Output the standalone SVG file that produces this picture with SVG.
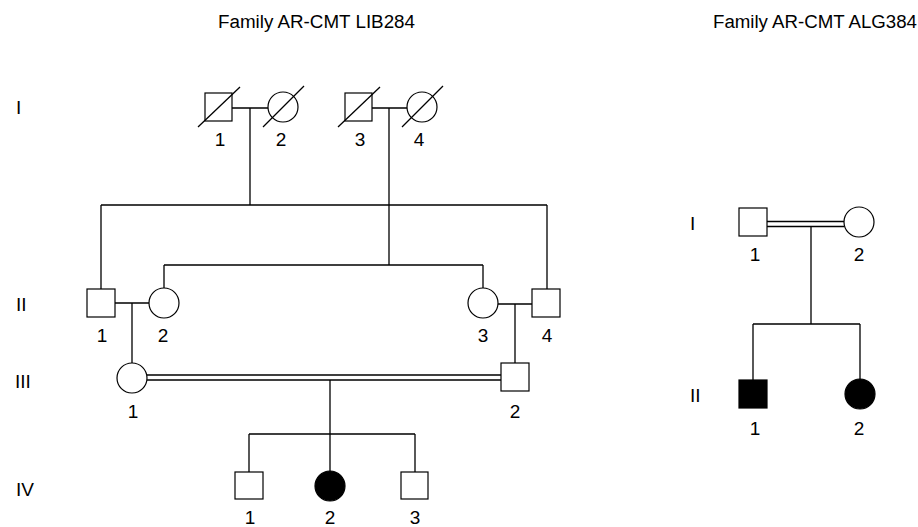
<svg xmlns="http://www.w3.org/2000/svg" width="918" height="527" viewBox="0 0 918 527">
<style>
.s{fill:#fff;stroke:#000;stroke-width:1.2}
.a{fill:#000;stroke:#000;stroke-width:1.2}
.l{fill:none;stroke:#000;stroke-width:1.3}
text{font-family:"Liberation Sans",Arial,sans-serif;font-size:19px;fill:#000}
.n{text-anchor:middle}
.t{font-size:18px}
.g{font-size:19px}
</style>
<rect width="918" height="527" fill="#fff"/>
<text class="t" x="218" y="28" textLength="197" lengthAdjust="spacingAndGlyphs">Family AR-CMT LIB284</text>
<text class="t" x="713" y="28" textLength="204" lengthAdjust="spacingAndGlyphs">Family AR-CMT ALG384</text>
<g id="gen-labels">
<text class="g" x="16" y="114">I</text>
<text class="g" x="16" y="311">II</text>
<text class="g" x="15" y="388">III</text>
<text class="g" x="16" y="496">IV</text>
<text class="g" x="690" y="230">I</text>
<text class="g" x="690" y="402">II</text>
</g>
<g id="connectors">
<path class="l" d="M232 108H268 M250 108V205 M372 108H407 M389 108V265"/>
<path class="l" d="M101 205H547 M101 205V289 M547 205V289"/>
<path class="l" d="M164 265H483 M164 265V288 M483 265V288"/>
<path class="l" d="M115 303H149 M132 303V363 M498 304H532 M515 304V363"/>
<path class="l" d="M147 375H501 M147 380H501 M330 380V434 M249 434H415 M249 434V472 M415 434V472 M330 434V471"/>
<path class="l" d="M767 221.5H844 M767 226.5H844 M811 226.5V324 M753 324H860 M753 324V380 M860 324V379"/>
</g>
<g id="LIB-I-1"><rect class="s" x="205" y="93" width="27" height="28"/><line class="l" x1="198" y1="127" x2="240" y2="87"/><text class="n" x="220" y="146">1</text></g>
<g id="LIB-I-2"><circle class="s" cx="283" cy="107" r="15"/><line class="l" x1="263" y1="127" x2="304" y2="86"/><text class="n" x="281" y="146">2</text></g>
<g id="LIB-I-3"><rect class="s" x="345" y="93" width="27" height="28"/><line class="l" x1="338" y1="127" x2="380" y2="87"/><text class="n" x="360" y="146">3</text></g>
<g id="LIB-I-4"><circle class="s" cx="422" cy="107" r="15"/><line class="l" x1="402" y1="127" x2="443" y2="86"/><text class="n" x="419" y="146">4</text></g>
<g id="LIB-II-1"><rect class="s" x="87" y="289" width="28" height="28"/><text class="n" x="102" y="342">1</text></g>
<g id="LIB-II-2"><circle class="s" cx="164" cy="303" r="15"/><text class="n" x="163" y="342">2</text></g>
<g id="LIB-II-3"><circle class="s" cx="483" cy="303" r="15"/><text class="n" x="483" y="342">3</text></g>
<g id="LIB-II-4"><rect class="s" x="532" y="289" width="28" height="28"/><text class="n" x="547" y="342">4</text></g>
<g id="LIB-III-1"><circle class="s" cx="132" cy="378" r="15"/><text class="n" x="133" y="418">1</text></g>
<g id="LIB-III-2"><rect class="s" x="501" y="363" width="28" height="28"/><text class="n" x="515" y="418">2</text></g>
<g id="LIB-IV-1"><rect class="s" x="235" y="472" width="28" height="27"/><text class="n" x="250" y="524">1</text></g>
<g id="LIB-IV-2"><circle class="a" cx="330" cy="486" r="15"/><text class="n" x="330" y="524">2</text></g>
<g id="LIB-IV-3"><rect class="s" x="401" y="472" width="27" height="27"/><text class="n" x="415" y="524">3</text></g>
<g id="ALG-I-1"><rect class="s" x="739" y="208" width="28" height="28"/><text class="n" x="755" y="261">1</text></g>
<g id="ALG-I-2"><circle class="s" cx="859" cy="222" r="15"/><text class="n" x="859" y="261">2</text></g>
<g id="ALG-II-1"><rect class="a" x="739" y="380" width="28" height="28"/><text class="n" x="755" y="435">1</text></g>
<g id="ALG-II-2"><circle class="a" cx="860" cy="394" r="15"/><text class="n" x="859" y="435">2</text></g>
</svg>
